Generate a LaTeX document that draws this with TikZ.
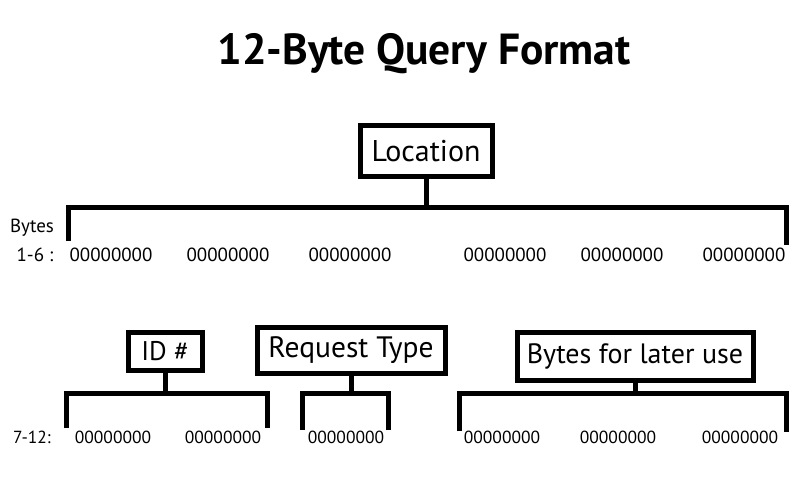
\documentclass[tikz,border=0pt]{standalone}
\usepackage{fontspec}
\setmainfont{PT Sans}
\usepackage{tikz}

\begin{document}
\begin{tikzpicture}[x=1pt,y=-1pt,
    box/.style={draw,line width=5pt,inner sep=0pt},
    brace/.style={line width=5pt},
    bits/.style={font=\fontsize{19}{22}\selectfont},
    bitsb/.style={font=\fontsize{17.5}{20}\selectfont}]
          \useasboundingbox (0,0) rectangle (800,500);
          \node (title) at (424,54) {\fontsize{43.5}{50}\selectfont\bfseries 12-Byte Query Format};
          \node [box,minimum width=132,minimum height=51,font=\fontsize{30}{34}\selectfont] (loc) at (426,151) {Location};
          \node [font=\fontsize{19}{22}\selectfont] (bytes) at (32,228) {Bytes};
          \node [font=\fontsize{19}{22}\selectfont] (rowa) at (35,255) {1-6 :};
          \coordinate (la) at (68,241);
          \coordinate (lb) at (68,207);
          \coordinate (lc) at (786,207);
          \coordinate (ld) at (786,245);
          \draw [brace] (la) -- (lb) -- (lc) -- (ld);
          \draw [brace] (loc.south) -- (loc.south |- lb);
          \node [bits] (a1) at (111,255) {00000000};
          \node [bits] (a2) at (228,255) {00000000};
          \node [bits] (a3) at (350,255) {00000000};
          \node [bits] (a4) at (505,255) {00000000};
          \node [bits] (a5) at (622,255) {00000000};
          \node [bits] (a6) at (744,255) {00000000};
          \node [box,minimum width=74,minimum height=38,font=\fontsize{27}{30}\selectfont] (idn) at (165,351) {ID \#};
          \node [box,minimum width=188,minimum height=46,font=\fontsize{29.5}{32}\selectfont] (req) at (351,350) {Request Type};
          \node [box,minimum width=236,minimum height=48,font=\fontsize{28}{32}\selectfont] (later) at (635,356) {Bytes for later use};
          \node [font=\fontsize{17.5}{20}\selectfont] (rowb) at (32,437) {7-12:};
          \coordinate (ia) at (66,428);
          \coordinate (ib) at (66,393);
          \coordinate (ic) at (267,393);
          \coordinate (ie) at (267,428);
          \draw [brace] (ia) -- (ib) -- (ic) -- (ie);
          \draw [brace] (idn.south) -- (idn.south |- ib);
          \coordinate (ra) at (302,430);
          \coordinate (rb) at (302,393);
          \coordinate (rc) at (388,393);
          \coordinate (rd) at (388,430);
          \draw [brace] (ra) -- (rb) -- (rc) -- (rd);
          \draw [brace] (req.south) -- (req.south |- rb);
          \coordinate (ba) at (459,431);
          \coordinate (bb) at (459,393);
          \coordinate (bc) at (786,393);
          \coordinate (bd) at (786,432);
          \draw [brace] (ba) -- (bb) -- (bc) -- (bd);
          \draw [brace] (later.south) -- (later.south |- bb);
          \node [bitsb] (b1) at (113,437) {00000000};
          \node [bitsb] (b2) at (223,437) {00000000};
          \node [bitsb] (b3) at (346,437) {00000000};
          \node [bitsb] (b4) at (502,437) {00000000};
          \node [bitsb] (b5) at (618,437) {00000000};
          \node [bitsb] (b6) at (740,437) {00000000};
        \end{tikzpicture}
\end{document}
